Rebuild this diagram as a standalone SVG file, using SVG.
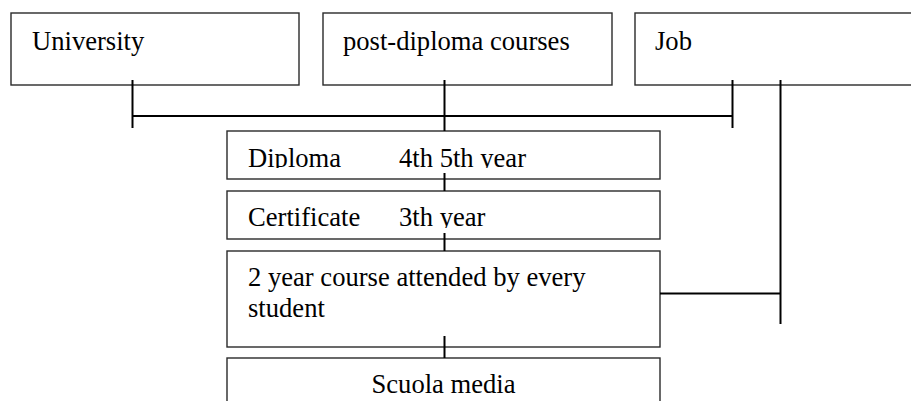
<svg xmlns="http://www.w3.org/2000/svg" width="911" height="401" viewBox="0 0 911 401">
  <style>
    .box { fill: #ffffff; stroke: #2a2a2a; stroke-width: 1.4; }
    .lbl { font-size: 26.6px; fill: #000000; }
    .conn { stroke: #000000; stroke-width: 2; fill: none; }
  </style>
  <defs>
    <clipPath id="clipDiploma"><rect x="227" y="131" width="433" height="37"/></clipPath>
    <clipPath id="clipCert"><rect x="227" y="191" width="433" height="37"/></clipPath>
  </defs>
  <rect width="911" height="401" fill="#ffffff"/>

  <g font-family="Liberation Serif, Times New Roman, Times, serif">
  <g id="university">
    <rect class="box" x="11" y="13" width="288" height="72"/>
    <text class="lbl" x="32" y="50">University</text>
  </g>
  <g id="post-diploma">
    <rect class="box" x="323" y="13" width="289" height="72"/>
    <text class="lbl" x="343" y="50">post-diploma courses</text>
  </g>
  <g id="job">
    <rect class="box" x="635" y="13" width="290" height="72"/>
    <text class="lbl" x="655" y="50">Job</text>
  </g>
  <g id="diploma">
    <rect class="box" x="227" y="131" width="433" height="48"/>
    <g clip-path="url(#clipDiploma)">
      <text class="lbl" x="248" y="167">Diploma</text>
      <text class="lbl" x="399" y="167">4th 5th year</text>
    </g>
  </g>
  <g id="certificate">
    <rect class="box" x="227" y="191" width="433" height="48"/>
    <g clip-path="url(#clipCert)">
      <text class="lbl" x="248" y="226">Certificate</text>
      <text class="lbl" x="399" y="226">3th year</text>
    </g>
  </g>
  <g id="two-year">
    <rect class="box" x="227" y="251" width="433" height="96"/>
    <text class="lbl" x="248" y="286">2 year course attended by every</text>
    <text class="lbl" x="248" y="317">student</text>
  </g>
  <g id="scuola-media">
    <rect class="box" x="227" y="358" width="433" height="60"/>
    <text class="lbl" x="443.5" y="393" text-anchor="middle">Scuola media</text>
  </g>
  </g>

  <g id="connectors">
    <line class="conn" x1="132.5" y1="80" x2="132.5" y2="128"/>
    <line class="conn" x1="444.5" y1="80" x2="444.5" y2="131"/>
    <line class="conn" x1="732.5" y1="80" x2="732.5" y2="128"/>
    <line class="conn" x1="132.5" y1="116" x2="732.5" y2="116"/>
    <line class="conn" x1="780.5" y1="80" x2="780.5" y2="324"/>
    <line class="conn" x1="660" y1="293.5" x2="780.5" y2="293.5"/>
    <line class="conn" x1="444.5" y1="173" x2="444.5" y2="191"/>
    <line class="conn" x1="444.5" y1="233" x2="444.5" y2="251"/>
    <line class="conn" x1="444.5" y1="336" x2="444.5" y2="358"/>
  </g>
</svg>
